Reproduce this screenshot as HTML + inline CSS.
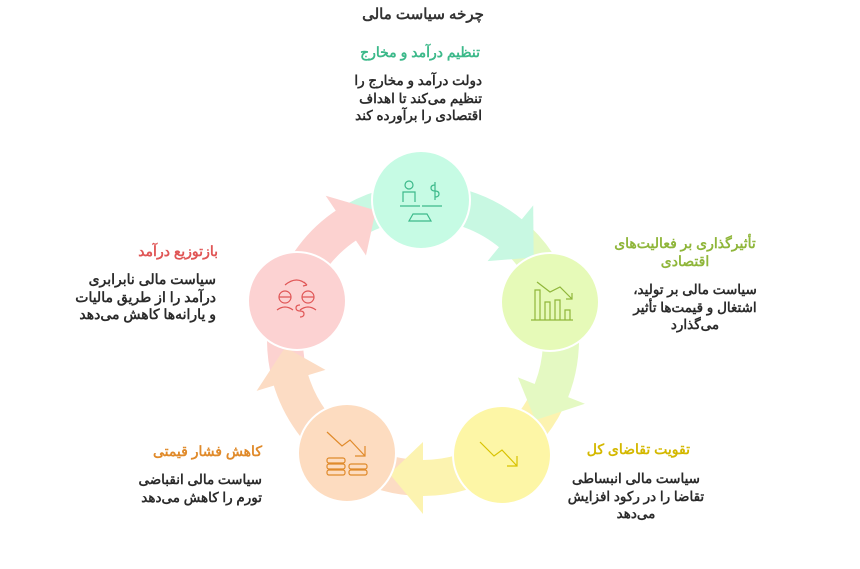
<!DOCTYPE html>
<html><head><meta charset="utf-8"><style>
body{margin:0;width:860px;height:569px;background:#fff;position:relative;overflow:hidden;font-family:"Liberation Sans","Noto Sans CJK SC",sans-serif;}
.t{position:absolute;direction:rtl;font-weight:bold;white-space:nowrap;}
.h{font-size:14px;}
.b{font-size:13.5px;color:#2b2b2b;line-height:17.5px;}
</style></head><body>
<svg id="s" width="860" height="569" style="position:absolute;left:0;top:0">
<g id="ring"></g>
<g stroke="#fff" stroke-width="2">
<circle cx="421" cy="200" r="49" fill="#c6fbe4"/>
<circle cx="550" cy="302" r="49" fill="#e6fab8"/>
<circle cx="502" cy="455" r="49" fill="#fdf6a6"/>
<circle cx="347" cy="453" r="49" fill="#fddcc0"/>
<circle cx="297" cy="301" r="49" fill="#fcd2d2"/>
</g>
<g fill="none" stroke-width="1.2">
<g stroke="#3cb98a"><circle cx="409" cy="185" r="4"/><path d="M403,202 v-10 h12 v10 M400,206 h20 M422,206 h20 M413,214 l-4,7 h22 l-4,-7 z M435,185 q-4,0 -4,3 q0,3 4,3 q4,0 4,3 q0,3 -4,3 M435,182 v18"/></g>
<g stroke="#8fb63a"><path d="M531,320 h42 M535,320 v-30 h5 v30 M545,320 v-18 h5 v18 M555,320 v-20 h5 v20 M565,320 v-10 h5 v10 M537,282 l13,10 l10,-5 l12,12 M572,293 v6 h-6"/></g>
<g stroke="#d8c200"><path d="M480,442 l14,14 l8,-6 l15,16 M517,456 v10 h-10"/></g>
<g stroke="#e08a2a"><path d="M327,432 l15,14 l8,-6 l15,16 M365,446 v10 h-10"/><rect x="327" y="458" width="18" height="5" rx="2"/><rect x="327" y="464" width="18" height="5" rx="2"/><rect x="327" y="470" width="18" height="5" rx="2"/><rect x="349" y="464" width="18" height="5" rx="2"/><rect x="349" y="470" width="18" height="5" rx="2"/></g>
<g stroke="#e05656"><circle cx="285" cy="297" r="6"/><circle cx="308" cy="297" r="6"/><path d="M279,297 h12 M302,297 h12 M277,310 q8,-6 16,0 M300,310 q8,-6 16,0 M285,285 q12,-10 22,0 M307,285 l-3,-3 M307,285 l-4,1 M300,305 q-4,0 -4,3 q0,3 4,3 q4,0 4,3 q0,3 -4,3"/></g>
</g>
</svg>
<script>
(function(){
var cx=423,cy=340,R=138,W=36,HW=36,HL=14;
var ang=[-90,-16.7,55.5,124,197];
var col=["#c8f8e2","#e4f9c2","#fcf3b0","#fcdcc4","#fcd2d0"];
var g=document.getElementById("ring"),h="";
function p(a,r){a=a*Math.PI/180;return [cx+r*Math.cos(a),cy+r*Math.sin(a)];}
function arc(a1,a2,c){var s=p(a1,R),e=p(a2,R);return '<path d="M'+s[0]+','+s[1]+' A'+R+','+R+' 0 0 1 '+e[0]+','+e[1]+'" fill="none" stroke="'+c+'" stroke-width="'+W+'"/>';}
for(var i=0;i<5;i++){h+=arc(ang[i]-34,ang[i],col[i]);}
for(var i=0;i<5;i++){var a=ang[i],b=ang[(i+1)%5];if(b<a)b+=360;
var tip=b-20,base=tip-HL;
h+=arc(a,base+1,col[i]);
var t=p(tip,R),b1=p(base,R-HW),b2=p(base,R+HW);
h+='<polygon points="'+t+' '+b1+' '+b2+'" fill="'+col[i]+'"/>';}
g.innerHTML=h;})();
</script>
<div class="t" style="left:0;width:846px;top:5px;text-align:center;font-size:15px;color:#333">چرخه سیاست مالی</div>

<div class="t h" style="left:340px;width:140px;top:44px;text-align:right;color:#3cb98a">تنظیم درآمد و مخارج</div>
<div class="t b" style="left:330px;width:152px;top:72px;text-align:right">دولت درآمد و مخارج را<br>تنظیم می‌کند تا اهداف<br>اقتصادی را برآورده کند</div>

<div class="t h" style="left:600px;width:170px;top:234px;text-align:center;color:#8fb63a;line-height:18px">تأثیرگذاری بر فعالیت‌های<br>اقتصادی</div>
<div class="t b" style="left:610px;width:170px;top:281px;text-align:center">سیاست مالی بر تولید،<br>اشتغال و قیمت‌ها تأثیر<br>می‌گذارد</div>

<div class="t h" style="left:560px;width:130px;top:441px;text-align:right;color:#d4b800">تقویت تقاضای کل</div>
<div class="t b" style="left:560px;width:152px;top:470px;text-align:center">سیاست مالی انبساطی<br>تقاضا را در رکود افزایش<br>می‌دهد</div>

<div class="t h" style="left:120px;width:142px;top:443px;text-align:right;color:#e08a2a">کاهش فشار قیمتی</div>
<div class="t b" style="left:110px;width:152px;top:471px;text-align:right">سیاست مالی انقباضی<br>تورم را کاهش می‌دهد</div>

<div class="t h" style="left:100px;width:118px;top:243px;text-align:right;color:#e05656">بازتوزیع درآمد</div>
<div class="t b" style="left:60px;width:156px;top:271px;text-align:right;font-size:14px">سیاست مالی نابرابری<br>درآمد را از طریق مالیات<br>و یارانه‌ها کاهش می‌دهد</div>
</body></html>
